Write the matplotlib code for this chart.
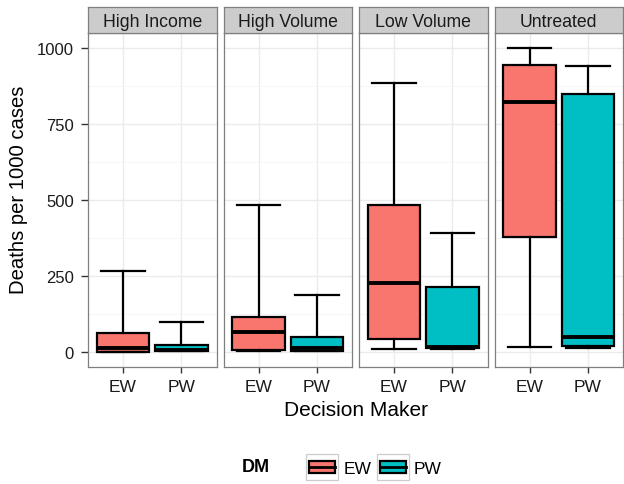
import matplotlib
matplotlib.use("Agg")
import matplotlib.pyplot as plt
from matplotlib.patches import Rectangle
from matplotlib.lines import Line2D
from matplotlib.legend_handler import HandlerBase

plt.rcParams['font.family'] = ['Liberation Sans', 'DejaVu Sans']

# ---- data ----
facets = ["High Income", "High Volume", "Low Volume", "Untreated"]
makers = ["EW", "PW"]
colors = {"EW": "#F8766D", "PW": "#00BFC4"}
# per facet: [EW, PW]
whislo = [[0, 2], [2, 4], [9, 8], [16, 12]]
q1 = [[1, 3], [5, 4], [42, 13], [378, 18]]
med = [[13, 6], [64, 11], [226, 17], [822, 49]]
q3 = [[62, 23], [114, 50], [482, 214], [943, 849]]
whishi = [[267, 98], [482, 187], [882, 389], [998, 940]]
y_ticks = [0, 250, 500, 750, 1000]
y_minor = [125, 375, 625, 875]

W, H = 624, 485
fig = plt.figure(figsize=(W / 100, H / 100), dpi=100)

left0, right_end, gap = 88, 623, 7
pw = (right_end - left0 - 3 * gap) / 4
ptop, pbot = 34, 368
strip_top = 8

ymin = min(min(r) for r in whislo)
ymax = max(max(r) for r in whishi)
rng = ymax - ymin
ylim = (ymin - 0.05 * rng, ymax + 0.05 * rng)

grey50 = "#7F7F7F"
for i, fac in enumerate(facets):
    x0 = left0 + i * (pw + gap)
    ax = fig.add_axes([x0 / W, 1 - pbot / H, pw / W, (pbot - ptop) / H])
    stats = []
    for j, m in enumerate(makers):
        stats.append(dict(whislo=whislo[i][j], q1=q1[i][j], med=med[i][j],
                          q3=q3[i][j], whishi=whishi[i][j], fliers=[], label=m))
    bp = ax.bxp(stats, positions=[1, 2], widths=0.9, patch_artist=True,
                showfliers=False, capwidths=0.75,
                boxprops=dict(linewidth=1.6, edgecolor="black"),
                whiskerprops=dict(linewidth=1.6, color="black"),
                capprops=dict(linewidth=1.6, color="black"),
                medianprops=dict(linewidth=2.8, color="black", solid_capstyle="butt"),
                zorder=3)
    for patch, m in zip(bp["boxes"], makers):
        patch.set_facecolor(colors[m])
    ax.set_xlim(0.4, 2.6)
    ax.set_ylim(*ylim)
    ax.set_yticks(y_ticks)
    ax.set_yticks(y_minor, minor=True)
    ax.set_xticks([1, 2])
    ax.set_xticklabels(makers)
    ax.grid(True, which="major", color="#EBEBEB", linewidth=1.0, zorder=0)
    ax.grid(True, which="minor", axis="y", color="#F5F5F5", linewidth=0.6, zorder=0)
    ax.set_axisbelow(True)
    for sp in ax.spines.values():
        sp.set_color(grey50)
        sp.set_linewidth(0.9)
    ax.tick_params(axis="x", length=4, width=1, color="#333333", labelsize=12.5,
                   labelcolor="#1A1A1A", pad=5)
    ax.tick_params(axis="y", which="minor", length=0)
    if i == 0:
        ax.tick_params(axis="y", length=5, width=1, color="#333333", labelsize=12,
                       labelcolor="#1A1A1A", pad=5)
    else:
        ax.tick_params(axis="y", which="major", length=0, labelleft=False)
    # strip
    sax = fig.add_axes([x0 / W, 1 - ptop / H, pw / W, (ptop - strip_top) / H])
    sax.set_facecolor("#CCCCCC")
    sax.set_xticks([]); sax.set_yticks([])
    for sp in sax.spines.values():
        sp.set_color(grey50)
        sp.set_linewidth(0.9)
    sax.text(0.5, 0.45, fac, ha="center", va="center", fontsize=12.7,
             color="#1A1A1A", transform=sax.transAxes)

fig.text(19 / W, 1 - 190 / H, "Deaths per 1000 cases", rotation=90,
         ha="center", va="center", fontsize=14.6, color="black")
fig.text(356 / W, 1 - 411 / H, "Decision Maker", ha="center", va="center",
         fontsize=15, color="black")


class BoxKey(HandlerBase):
    def create_artists(self, legend, orig_handle, xdescent, ydescent, width,
                       height, fontsize, trans):
        x, y = -xdescent, -ydescent
        bg = Rectangle((x, y), width, height, facecolor="white",
                       edgecolor="#CCCCCC", linewidth=0.9, transform=trans)
        ix, iy = width * 0.1, height * 0.27
        box = Rectangle((x + ix, y + iy), width - 2 * ix, height - 2 * iy,
                        facecolor=orig_handle.get_facecolor(), edgecolor="black",
                        linewidth=1.6, transform=trans)
        ln = Line2D([x + ix, x + width - ix], [y + height / 2] * 2, color="black",
                    linewidth=2.0, transform=trans)
        return [bg, box, ln]


handles = [Rectangle((0, 0), 1, 1, facecolor=colors[m]) for m in makers]
leg = fig.legend(handles, makers, handler_map={Rectangle: BoxKey()},
                 loc="center", bbox_to_anchor=(374 / W, 1 - 468 / H), ncol=2,
                 frameon=False, fontsize=12.5, handlelength=1.85, handleheight=1.85,
                 handletextpad=0.3, columnspacing=0.3, borderpad=0)
fig.text(256 / W, 1 - 468 / H, "DM", ha="center", va="center", fontsize=13,
         fontweight="bold", color="black")

fig.savefig("out.png", dpi=100)
